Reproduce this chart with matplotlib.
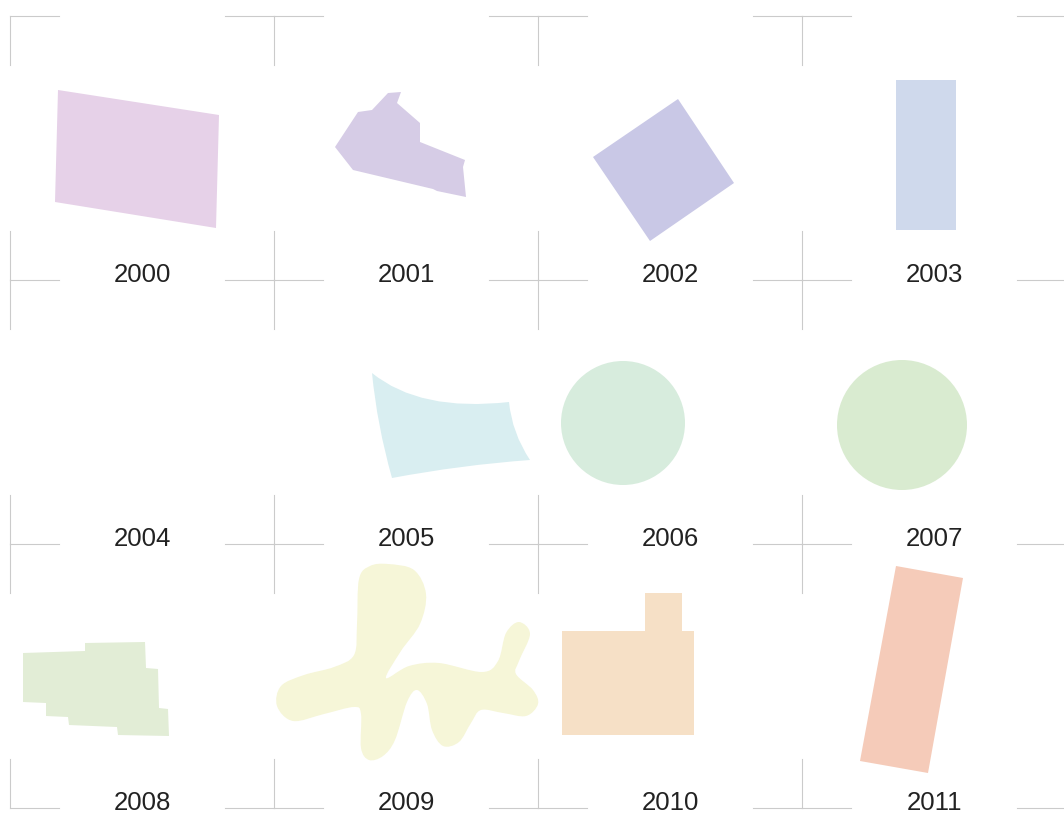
"""Shape-per-year grid: one pale outline for each year 2000-2011, four to a
row, with thin crop-mark crosses at the cell corners.

Outputs: out.png
"""

import matplotlib
import numpy as np

matplotlib.use("Agg")
import matplotlib.pyplot as plt  # noqa: E402
from matplotlib.patches import Circle, PathPatch, Polygon  # noqa: E402
from matplotlib.path import Path  # noqa: E402

YEARS = [2000, 2001, 2002, 2003, 2004, 2005, 2006, 2007, 2008, 2009, 2010, 2011]
COLORS = ["#e6d1e8", "#d6cce6", "#c9c8e6", "#cfd9ec", "#ffffff", "#d9eef1",
          "#d7ecdd", "#d9ebd0", "#e2edd6", "#f6f6d8", "#f6e0c6", "#f5cbb9"]

# outlines in cell-local pixels, origin = the cell's top-left crop mark
SHAPE_2000 = [(48, 74), (209, 99), (206, 212), (45, 186)]
SHAPE_2001 = [(114, 77), (127, 76), (123, 87), (146, 107), (146, 126), (191, 144),
              (189, 151), (192, 181), (163, 175), (159, 173), (79, 154), (61, 131),
              (84, 96), (98, 94)]
SHAPE_2002 = [(140, 83), (196, 167), (112, 225), (55, 141)]
SHAPE_2003 = [(94, 64), (154, 64), (154, 214), (94, 214)]
# corner, bend, corner, bend ... (quadratic edges)
SHAPE_2005 = [(98, 93), (146, 132), (235, 122), (238, 153), (256, 180),
              (187, 185), (118, 198), (103, 145)]
CIRCLE_2006 = (85, 143, 62)
CIRCLE_2007 = (100, 145, 65)
SHAPE_2008 = [(13, 109), (75, 107), (75, 99), (135, 98), (136, 124), (148, 125),
              (149, 164), (158, 165), (159, 192), (108, 191), (107, 183), (59, 181),
              (58, 173), (36, 172), (36, 159), (13, 158)]
# points on the blob's outline, clockwise from the top of the upper lobe
BLOB_2009 = [(114, 20), (140, 26), (152, 50), (146, 80), (127, 107), (112, 134),
             (135, 122), (165, 119), (208, 128), (224, 117), (232, 89), (245, 78),
             (256, 90), (245, 117), (242, 130), (259, 146), (264, 160), (252, 172),
             (229, 169), (207, 166), (197, 179), (185, 198), (169, 202), (158, 186),
             (153, 160), (143, 146), (133, 158), (121, 196), (109, 212), (95, 216),
             (87, 204), (87, 170), (80, 163), (50, 170), (19, 177), (3, 162),
             (7, 142), (30, 131), (60, 123), (80, 111), (83, 80), (85, 35), (96, 22)]
SHAPE_2010 = [(24, 87), (107, 87), (107, 49), (144, 49), (144, 87), (156, 87),
              (156, 191), (24, 191)]
SHAPE_2011 = [(94, 22), (161, 34), (126, 229), (58, 217)]

W, H = 1064, 816
X0, Y0, CELL, ARM = 10, 16, 264, 49
NCOL, NROW = 4, 3
LINE = "#cbcbcb"


def _shift(pts, ox, oy):
    return np.asarray(pts, float) + (ox, oy)


def _curved_quad(pts):
    # corner, bend, corner, bend ... -> closed quadratic path
    verts = [pts[0]]
    codes = [Path.MOVETO]
    n = len(pts)
    for i in range(1, n, 2):
        verts += [pts[i], pts[(i + 1) % n]]
        codes += [Path.CURVE3, Path.CURVE3]
    verts.append(pts[0])
    codes.append(Path.CLOSEPOLY)
    return Path(verts, codes)


def _through(pts):
    # closed cubic path through every outline point (catmull-rom handles)
    n = len(pts)
    verts = [pts[0]]
    codes = [Path.MOVETO]
    for i in range(n):
        p0, p1, p2, p3 = pts[i - 1], pts[i], pts[(i + 1) % n], pts[(i + 2) % n]
        verts += [p1 + (p2 - p0) / 6, p2 - (p3 - p1) / 6, p2]
        codes += [Path.CURVE4] * 3
    verts.append(pts[0])
    codes.append(Path.CLOSEPOLY)
    return Path(verts, codes)


def render(out_path):
    fig = plt.figure(figsize=(W / 100, H / 100), dpi=100)
    ax = fig.add_axes([0, 0, 1, 1])
    ax.set_xlim(0, W)
    ax.set_ylim(H, 0)
    ax.axis("off")

    # crop-mark crosses
    for r in range(NROW + 1):
        for c in range(NCOL + 1):
            x, y = X0 + c * CELL, Y0 + r * CELL
            ax.plot([x, x + ARM], [y, y], color=LINE, lw=0.8)
            if c > 0:
                ax.plot([x - ARM, x], [y, y], color=LINE, lw=0.8)
            if r < NROW:
                ax.plot([x, x], [y, y + ARM], color=LINE, lw=0.8)
            if r > 0:
                ax.plot([x, x], [y - ARM, y], color=LINE, lw=0.8)

    polys = {2000: SHAPE_2000, 2001: SHAPE_2001, 2002: SHAPE_2002, 2003: SHAPE_2003,
             2008: SHAPE_2008, 2010: SHAPE_2010, 2011: SHAPE_2011}
    circles = {2006: CIRCLE_2006, 2007: CIRCLE_2007}

    for i, (year, color) in enumerate(zip(YEARS, COLORS)):
        r, c = divmod(i, NCOL)
        ox, oy = X0 + c * CELL, Y0 + r * CELL
        if year in polys:
            ax.add_patch(Polygon(_shift(polys[year], ox, oy), closed=True,
                                 facecolor=color, edgecolor="none"))
        elif year in circles:
            cx, cy, rad = circles[year]
            ax.add_patch(Circle((ox + cx, oy + cy), rad, facecolor=color,
                                edgecolor="none"))
        elif year == 2005:
            ax.add_patch(PathPatch(_curved_quad(_shift(SHAPE_2005, ox, oy)),
                                   facecolor=color, edgecolor="none"))
        elif year == 2009:
            ax.add_patch(PathPatch(_through(_shift(BLOB_2009, ox, oy)),
                                   facecolor=color, edgecolor="none"))

        ax.text(ox + CELL / 2, oy + CELL + 2, str(year), ha="center", va="baseline",
                fontsize=18.5, color="#222222", family="Liberation Sans", zorder=5)

    fig.savefig(out_path, dpi=100, facecolor="white")


if __name__ == "__main__":
    render("out.png")
